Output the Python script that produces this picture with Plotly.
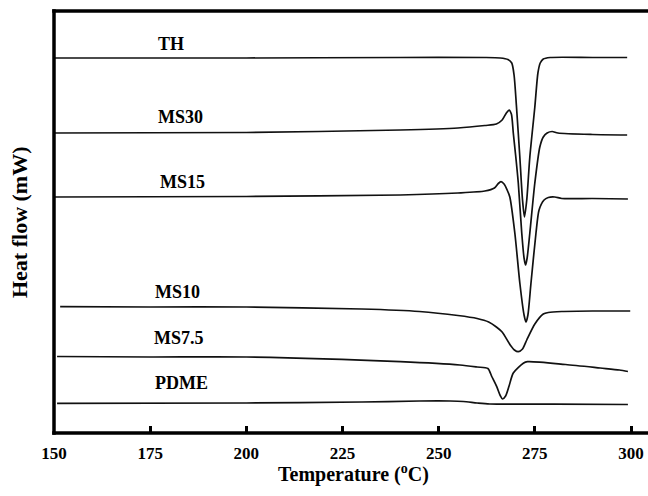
import plotly.graph_objects as go

# ---- data (temperature in °C, heat flow in arbitrary units) ----
th_T = [150, 200, 240, 262, 266, 268, 269, 269.6, 270.2, 271.1, 271.8, 272.3, 272.9, 273.7, 275, 275.8, 276.4, 277.2, 279, 290, 299]
th_hf = [375, 375, 375.5, 375.5, 375, 373.5, 370, 358, 328, 276, 233, 216, 233, 276, 326, 360, 370, 374, 375.5, 375.5, 375.5]

ms30_T = [150, 200, 240, 255, 262, 265, 266.5, 267.6, 268.3, 268.9, 269.4, 270, 270.7, 271.6, 272.2, 272.6, 273, 273.7, 275, 276.3, 277.2, 278.2, 279.5, 281, 290, 299]
ms30_hf = [300, 300.5, 303, 305, 307.5, 309, 313, 320, 323, 319, 300, 278, 250, 200, 175, 168, 175, 200, 250, 286, 296, 300, 301.5, 300, 298.5, 298]

ms15_T = [150, 200, 240, 255, 262, 264.5, 265.5, 266.2, 267, 267.8, 268.5, 269.8, 271.1, 272.2, 272.7, 273.2, 274, 275.3, 276.1, 277.4, 278.5, 280.2, 282, 290, 299.2]
ms15_hf = [236, 236.5, 238, 240, 242, 245, 249.5, 251.3, 249, 243, 236, 200, 150, 118, 111, 118, 150, 200, 223, 233, 235.5, 236, 234.5, 234.5, 234]

ms10_T = [151.6, 175, 200, 230, 245, 255, 260, 263, 265, 266.5, 268.6, 269.7, 270.7, 271.8, 272.9, 275, 277.2, 278.5, 282, 290, 299.8]
ms10_hf = [126.3, 126, 126, 124, 121.5, 117.5, 114.5, 111, 106, 101, 88, 83, 81.3, 84, 93, 109, 119, 120.5, 121.5, 122, 122]

ms75_T = [150.8, 175, 200, 240, 255.5, 260, 262.8, 263.8, 265.1, 266, 266.6, 267.4, 268.3, 269.4, 272, 273.1, 283, 292, 297, 299.2]
ms75_hf = [76.5, 76, 76, 71.3, 68, 66, 64.5, 56.5, 46.3, 37.5, 34, 37, 47, 60, 69.7, 71.3, 68.5, 65, 63, 61.5]

pdme_T = [150.8, 200, 230, 245, 253, 256.4, 260, 263.3, 280, 299.2]
pdme_hf = [29.7, 30, 31, 32, 32, 31.5, 30, 29, 28.8, 28.5]

series_names = ["TH", "MS30", "MS15", "MS10", "MS7.5", "PDME"]
label_T = [180.4, 183.0, 183.5, 182.1, 182.6, 183.2]
label_hf = [388.7, 316.3, 251.3, 141.3, 94.7, 49.7]

x_ticks = [150, 175, 200, 225, 250, 275, 300]

SERIF = "Times New Roman, Liberation Serif, serif"
INK = "#000000"

fig = go.Figure()
for name, T, hf in zip(series_names,
                       [th_T, ms30_T, ms15_T, ms10_T, ms75_T, pdme_T],
                       [th_hf, ms30_hf, ms15_hf, ms10_hf, ms75_hf, pdme_hf]):
    fig.add_trace(go.Scatter(x=T, y=hf, mode="lines", name=name,
                             line=dict(color="#111111", width=1.7, shape="spline", smoothing=0.7),
                             showlegend=False, hoverinfo="skip"))

for name, tx, ty in zip(series_names, label_T, label_hf):
    fig.add_annotation(x=tx, y=ty, text="<b>%s</b>" % name, showarrow=False,
                       xanchor="center", yanchor="middle",
                       font=dict(family=SERIF, size=18, color=INK))

# axis titles
fig.add_annotation(xref="paper", yref="paper", x=0.505, y=-0.0948,
                   text="<b>Temperature (<sup>o</sup>C)</b>", showarrow=False,
                   xanchor="center", yanchor="middle",
                   font=dict(family=SERIF, size=20, color=INK))
fig.add_annotation(xref="paper", yref="paper", x=-0.0589, y=0.5,
                   text="<b>Heat flow (mW)</b>", showarrow=False, textangle=-90,
                   xanchor="center", yanchor="middle",
                   font=dict(family=SERIF, size=22, color=INK))

# frame: left, bottom and top lines (no right line visible in the reference)
frame = dict(type="line", xref="paper", yref="paper", line=dict(color=INK, width=3.5))
fig.add_shape(x0=0, x1=0, y0=-0.004, y1=1.004, **frame)
fig.add_shape(x0=-0.003, x1=1.0, y0=0, y1=0, **frame)
fig.add_shape(x0=-0.003, x1=1.0, y0=1, y1=1, **frame)

fig.update_layout(
    width=648, height=496,
    margin=dict(l=54, r=0, t=11, b=63),
    paper_bgcolor="white", plot_bgcolor="white",
    xaxis=dict(range=[150, 304.42], tickvals=x_ticks,
               ticktext=[str(v) for v in x_ticks],
               ticks="inside", ticklen=7, tickwidth=3, tickcolor=INK,
               ticklabelstandoff=8,
               showline=False, showgrid=False, zeroline=False,
               tickfont=dict(family=SERIF, size=17, color=INK, weight="bold")),
    yaxis=dict(range=[0, 422], showticklabels=False, ticks="",
               showline=False, showgrid=False, zeroline=False),
)

fig.write_html("out.html")
